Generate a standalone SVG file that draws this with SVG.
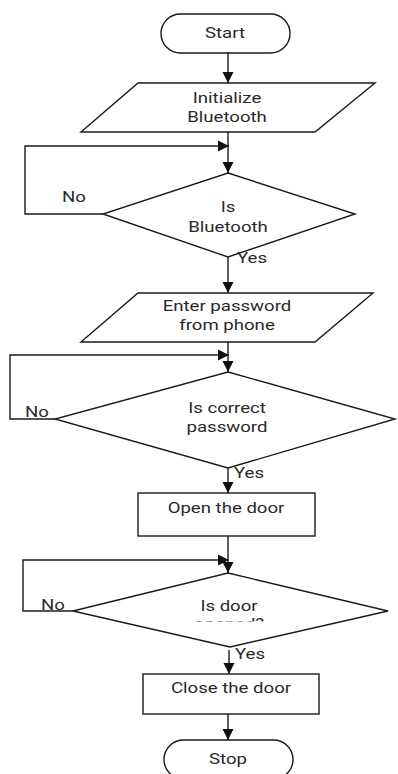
<svg xmlns="http://www.w3.org/2000/svg" width="398" height="774" viewBox="0 0 398 774">
  <style>
    .shape { fill: #ffffff; stroke: #1a1a1a; stroke-width: 1.4; }
    .wire { fill: none; stroke: #1a1a1a; stroke-width: 1.4; }
    .lbl { font-family: Roboto, "Liberation Sans", sans-serif; font-size: 15.5px; fill: #2a2a2a; text-anchor: middle; }
    .tag { font-family: Roboto, "Liberation Sans", sans-serif; font-size: 15.5px; fill: #2a2a2a; text-anchor: start; }
  </style>
  <defs>
    <marker id="arrow" markerUnits="userSpaceOnUse" markerWidth="12" markerHeight="12" refX="11" refY="6" orient="auto">
      <path d="M0,0.5 L11,6 L0,11.5 z" fill="#111111"/>
    </marker>
    <clipPath id="cut">
      <rect x="0" y="560" width="398" height="61.5"/>
    </clipPath>
  </defs>
  <rect width="398" height="774" fill="#ffffff"/>

  <g id="connectors">
    <path class="wire" d="M228,53 V83" marker-end="url(#arrow)"/>
    <path class="wire" d="M228,132 V173" marker-end="url(#arrow)"/>
    <path class="wire" d="M103,214 H25 V146 H229" marker-end="url(#arrow)"/>
    <path class="wire" d="M228,257 V293" marker-end="url(#arrow)"/>
    <path class="wire" d="M228,342 V372" marker-end="url(#arrow)"/>
    <path class="wire" d="M55,419 H10 V355 H229" marker-end="url(#arrow)"/>
    <path class="wire" d="M228,468 V493" marker-end="url(#arrow)"/>
    <path class="wire" d="M228,536 V573" marker-end="url(#arrow)"/>
    <path class="wire" d="M73,611 H23 V560 H229" marker-end="url(#arrow)"/>
    <path class="wire" d="M229,650 V674" marker-end="url(#arrow)"/>
    <path class="wire" d="M228,714 V740" marker-end="url(#arrow)"/>
  </g>

  <g id="start">
    <rect class="shape" x="161" y="14" width="129" height="39" rx="19.5"/>
    <text class="lbl" transform="translate(225 38) scale(1.2 1)">Start</text>
  </g>

  <g id="init-bluetooth">
    <polygon class="shape" points="138,83 375,83 315,132 81,132"/>
    <text class="lbl" transform="translate(227 103) scale(1.2 1)">Initialize</text>
    <text class="lbl" transform="translate(227 122) scale(1.2 1)">Bluetooth</text>
  </g>

  <g id="check-bluetooth">
    <polygon class="shape" points="228,173 355,214 228,257 103,214"/>
    <text class="lbl" transform="translate(228 212) scale(1.2 1)">Is</text>
    <text class="lbl" transform="translate(228 232) scale(1.2 1)">Bluetooth</text>
    <text class="tag" transform="translate(62 202) scale(1.2 1)">No</text>
    <text class="tag" transform="translate(237 263) scale(1.2 1)">Yes</text>
  </g>

  <g id="enter-password">
    <polygon class="shape" points="138,293 373,293 315,342 81,342"/>
    <text class="lbl" transform="translate(227 311) scale(1.2 1)">Enter password</text>
    <text class="lbl" transform="translate(227 330) scale(1.2 1)">from phone</text>
  </g>

  <g id="check-password">
    <polygon class="shape" points="228,372 395,419 228,468 55,419"/>
    <text class="lbl" transform="translate(227 413) scale(1.2 1)">Is correct</text>
    <text class="lbl" transform="translate(227 432) scale(1.2 1)">password</text>
    <text class="tag" transform="translate(25 417) scale(1.2 1)">No</text>
    <text class="tag" transform="translate(234 478) scale(1.2 1)">Yes</text>
  </g>

  <g id="open-door">
    <rect class="shape" x="138" y="493" width="177" height="43"/>
    <text class="lbl" transform="translate(226 513) scale(1.2 1)">Open the door</text>
  </g>

  <g id="check-door">
    <polygon class="shape" points="228,573 388,611 230,647 73,611"/>
    <text class="lbl" transform="translate(229 611) scale(1.2 1)">Is door</text>
    <!-- second line is cut off just under its x-height -->
    <g clip-path="url(#cut)">
      <text class="lbl" transform="translate(229 628.5) scale(1.2 1)">opened?</text>
    </g>
    <text class="tag" transform="translate(41 610) scale(1.2 1)">No</text>
    <text class="tag" transform="translate(235 659) scale(1.2 1)">Yes</text>
  </g>

  <g id="close-door">
    <rect class="shape" x="143" y="674" width="176" height="40"/>
    <text class="lbl" transform="translate(231 693) scale(1.2 1)">Close the door</text>
  </g>

  <g id="stop">
    <rect class="shape" x="164" y="740" width="129" height="39" rx="19.5"/>
    <text class="lbl" transform="translate(228 764) scale(1.2 1)">Stop</text>
  </g>
</svg>
